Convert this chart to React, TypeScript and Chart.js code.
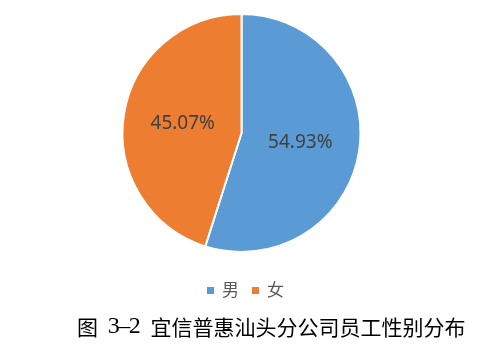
import React, { useEffect, useRef } from "react";
import { Chart, registerables } from "chart.js";

Chart.register(...registerables);

// Gender split of staff
const categories = ["男", "女"];
const shares = [54.93, 45.07];
const sliceColors = ["#5B9BD5", "#ED7D31"];
const caption = "图 3-2 宜信普惠汕头分公司员工性别分布";

// Percentage labels at each slice's middle
const sliceLabels = {
  id: "sliceLabels",
  afterDatasetsDraw(chart: any) {
    const { ctx } = chart;
    const meta = chart.getDatasetMeta(0);
    ctx.save();
    ctx.font = '19px "Noto Sans", "Open Sans", sans-serif';
    ctx.fillStyle = "#404040";
    ctx.textAlign = "center";
    ctx.textBaseline = "middle";
    meta.data.forEach((arc: any, i: number) => {
      const p = arc.tooltipPosition();
      ctx.fillText(shares[i].toFixed(2) + "%", p.x, p.y);
    });
    ctx.restore();
  },
};

// Legend row and figure caption below the pie
const legendAndCaption = {
  id: "legendAndCaption",
  afterDraw(chart: any) {
    const { ctx } = chart;
    ctx.save();
    ctx.font = '17px "Noto Sans CJK SC", sans-serif';
    ctx.textBaseline = "middle";
    ctx.textAlign = "left";
    const y = 290;
    let x = 207;
    categories.forEach((name, i) => {
      ctx.fillStyle = sliceColors[i];
      ctx.fillRect(x, y - 3, 7, 7);
      ctx.fillStyle = "#595959";
      ctx.fillText(name, x + 15, y);
      x += 45;
    });

    // Caption laid out on a fixed grid: full-width cells for CJK, half cells for the rest
    const size = 21;
    const cjkFont = `${size}px "Noto Sans CJK SC", serif`;
    const latinFont = `24px "Liberation Serif", serif`;
    ctx.fillStyle = "#000000";
    ctx.textAlign = "center";
    let cx = 77;
    for (const ch of caption) {
      const wide = ch.charCodeAt(0) > 0x2e80;
      const cell = wide ? size : size / 2;
      if (ch !== " ") {
        ctx.font = wide ? cjkFont : latinFont;
        const glyph = ch === "-" ? "\u2013" : ch;
        ctx.fillText(glyph, cx + cell / 2, 327);
      }
      cx += cell;
    }
    ctx.restore();
  },
};

export default function App() {
  const canvasRef = useRef<HTMLCanvasElement | null>(null);

  useEffect(() => {
    const canvas = canvasRef.current;
    if (!canvas) return;
    const chart = new Chart(canvas, {
      type: "pie",
      data: {
        labels: categories,
        datasets: [
          {
            data: shares,
            backgroundColor: sliceColors,
            borderColor: "#FFFFFF",
            borderWidth: 2,
          },
        ],
      },
      options: {
        responsive: false,
        animation: false,
        layout: { padding: { top: 13, bottom: 92, left: 121, right: 134 } },
        plugins: {
          legend: { display: false },
          tooltip: { enabled: false },
        },
      },
      plugins: [sliceLabels, legendAndCaption],
    });
    return () => chart.destroy();
  }, []);

  return (
    <div style={{ position: "fixed", left: 0, top: 0, width: 496, height: 345, background: "#FFFFFF" }}>
      <canvas ref={canvasRef} width={496} height={345} />
    </div>
  );
}
